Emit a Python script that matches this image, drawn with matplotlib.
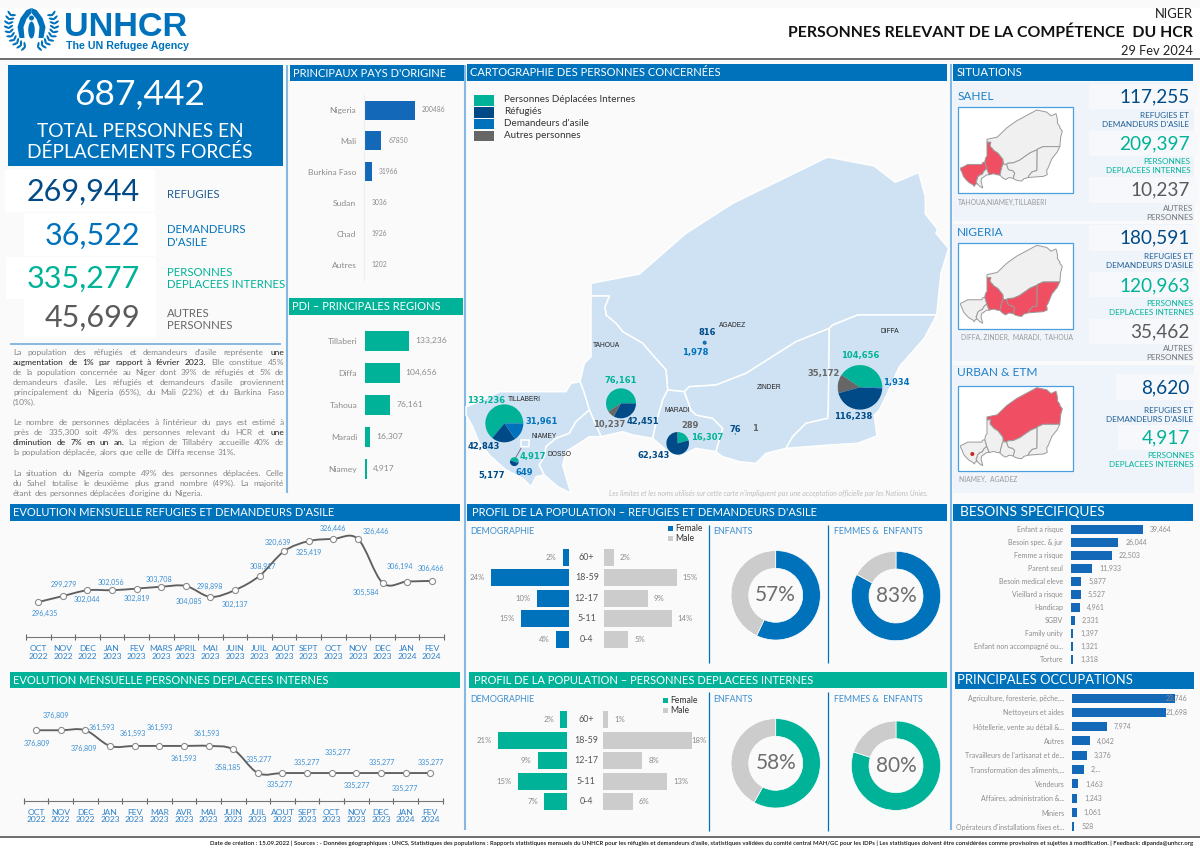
# UNHCR Niger dashboard - February 2024
import numpy as np
import matplotlib
matplotlib.use("Agg")
import matplotlib.pyplot as plt
from matplotlib.path import Path
from matplotlib.patches import PathPatch, Polygon, Rectangle, Ellipse

plt.rcParams['font.family'] = ['Lato', 'DejaVu Sans']

W, H = 1200, 849
BLUE = '#0072bc'
NAVY = '#004b87'
TEAL = '#00b398'
DGREY = '#666666'
LGREY = '#cccccc'
LINEBLUE = '#85b8e3'
LABELBLUE = '#3b8fd4'
TXTGREY = '#8a8a8a'

# ---------------------- values ----------------------
origin_names = ['Nigeria', 'Mali', 'Burkina Faso', 'Sudan', 'Chad', 'Autres']
origin_values = [200486, 67850, 31966, 3036, 1926, 1202]

region_names = ['Tillaberi', 'Diffa', 'Tahoua', 'Maradi', 'Niamey']
region_values = [133236, 104656, 76161, 16307, 4917]

need_names = ['Enfant a risque', 'Besoin spec. & jur', 'Femme a risque', 'Parent seul',
              'Besoin medical eleve', 'Vieillard a risque', 'Handicap', 'SGBV', 'Family unity',
              'Enfant non accompagné ou...', 'Torture']
need_values = [39464, 26044, 22503, 11933, 5877, 5527, 4961, 2331, 1397, 1321, 1318]

job_names = ['Agriculture, foresterie, pêche,...', 'Nettoyeurs et aides', 'Hôtellerie, vente au détail &...',
             'Autres', "Travailleurs de l'artisanat et de...", 'Transformation des aliments,...',
             'Vendeurs', 'Affaires, administration &...', 'Miniers', "Opérateurs d'installations fixes et..."]
job_values = [23746, 21698, 7974, 4042, 3376, 2700, 1463, 1243, 1061, 528]
job_labels = ['23,746', '21,698', '7,974', '4,042', '3,376', '2,...', '1,463', '1,243', '1,061', '528']

months_ref = ['OCT\n2022', 'NOV\n2022', 'DEC\n2022', 'JAN\n2023', 'FEV\n2023', 'MARS\n2023', 'APRIL\n2023',
              'MAI\n2023', 'JUIN\n2023', 'JUIL\n2023', 'AOUT\n2023', 'SEPT\n2023', 'OCT\n2023', 'NOV\n2023',
              'DEC\n2023', 'JAN\n2024', 'FEV\n2024']
refugee_trend = [296435, 299279, 302044, 302056, 302819, 303708, 304085, 298898, 302137,
                 308917, 320639, 325419, 326446, 326446, 305584, 306194, 306466]

months_idp = ['OCT\n2022', 'NOV\n2022', 'DEC\n2022', 'JAN\n2023', 'FEV\n2023', 'MAR\n2023', 'AVR\n2023',
              'MAI\n2023', 'JUIN\n2023', 'JUIL\n2023', 'AOUT\n2023', 'SEPT\n2023', 'OCT\n2023', 'NOV\n2023',
              'DEC\n2023', 'JAN\n2024', 'FEV\n2024']
idp_trend = [376809, 376809, 376809, 361593, 361593, 361593, 361593, 361593, 358185,
             335277, 335277, 335277, 335277, 335277, 335277, 335277, 335277]

age_groups = ['60+', '18-59', '12-17', '5-11', '0-4']
ref_female = [2, 24, 10, 15, 4]
ref_male = [2, 15, 9, 14, 5]
idp_female = [2, 21, 9, 15, 7]
idp_male = [1, 18, 8, 13, 6]

donut_ref_children = [57, 43]
donut_ref_women = [83, 17]
donut_idp_children = [58, 42]
donut_idp_women = [80, 20]

# map pies: PDI, refugees, asylum seekers, others
pie_tillaberi = [133236, 42843, 31961]
pie_tahoua = [76161, 10237, 42451]
pie_maradi = [16307, 62343, 289]
pie_diffa = [104656, 35172, 116238, 1934]
pie_niamey = [4917, 5177, 649]
pie_agadez = [1978, 816]
pie_zinder = [76, 1]

# label offsets around the points of the two trend lines, in pixels
ref_offsets = [(7, 11), (1, -12), (0, 9), (-1, -8), (0, 10), (-2, -7), (3, 16), (-1, -10), (0, 14),
               (3, -9), (-6, -9), (0, 11), (0, -10), (18, -7), (-17, 10), (-7, -15), (-1, -12)]
idp_offsets = [(1, 13), (-5, -15), (-1, 18), (-8, -18), (-2, -12), (1, -18), (0, 13), (-2, -12), (-5, 18),
               (1, -14), (-3, 11), (0, -11), (6, -21), (0, 12), (1, -11), (-1, 15), (0, -11)]

# region outlines in the coordinates of the large map
AGADEZ = [(375, 708), (375, 670), (520, 642), (660, 520), (800, 430), (1085, 291), (1225, 318), (1288, 367),
          (1358, 337), (1378, 410), (1378, 462), (1415, 508), (1410, 520), (1448, 565), (1425, 640), (1412, 765),
          (1175, 765), (1100, 795), (1090, 805), (990, 845), (840, 940), (750, 975), (670, 980), (655, 995),
          (605, 990), (600, 930), (560, 885), (530, 850), (470, 815), (450, 790), (420, 765), (417, 740), (430, 708)]
TAHOUA = [(375, 708), (430, 708), (417, 740), (420, 765), (450, 790), (470, 815), (530, 850), (560, 885),
          (600, 930), (605, 990), (590, 1020), (570, 1090), (560, 1135), (500, 1125), (470, 1115), (405, 1130),
          (370, 1050), (355, 1000), (342, 965), (355, 910), (375, 890)]
TILLABERI = [(342, 965), (355, 1000), (370, 1050), (330, 1085), (310, 1120), (270, 1135), (240, 1160), (235, 1190),
             (220, 1215), (235, 1245), (210, 1250), (195, 1280), (170, 1255), (120, 1230), (75, 1190), (40, 1150),
             (20, 1100), (0, 1065), (0, 1040), (40, 1025), (100, 995), (300, 995), (315, 970)]
DOSSO = [(370, 1050), (405, 1130), (370, 1130), (340, 1150), (300, 1175), (290, 1215), (300, 1250), (315, 1300),
         (275, 1280), (235, 1245), (220, 1215), (235, 1190), (240, 1160), (270, 1135), (310, 1120), (330, 1085)]
MARADI = [(605, 990), (655, 995), (675, 1050), (690, 1065), (740, 1075), (770, 1105), (750, 1175), (690, 1165),
          (640, 1190), (600, 1170), (560, 1135), (570, 1090), (590, 1020)]
ZINDER = [(655, 995), (670, 980), (750, 975), (840, 940), (990, 845), (1090, 805), (1087, 1050), (1085, 1075),
          (1020, 1090), (980, 1130), (960, 1165), (900, 1180), (870, 1210), (820, 1205), (770, 1190), (750, 1175),
          (770, 1105), (740, 1075), (690, 1065), (675, 1050)]
DIFFA = [(1090, 805), (1100, 795), (1175, 765), (1412, 765), (1375, 835), (1300, 920), (1255, 1020), (1240, 1050),
         (1225, 1065), (1233, 1128), (1175, 1150), (1090, 1155), (960, 1165), (980, 1130), (1020, 1090), (1085, 1075),
         (1087, 1050)]
NIAMEY = [(165, 1140), (190, 1140), (188, 1160), (165, 1160)]
ALL_REGIONS = [AGADEZ, TAHOUA, TILLABERI, DOSSO, MARADI, ZINDER, DIFFA]

body_lines = [
    ("La population des réfugiés et demandeurs d'asile représente **une**", 352, True),
    ("**augmentation de 1% par rapport à février 2023.** Elle constitue 45%", 362, True),
    ("de la population concernée au Niger dont 39% de réfugiés et 5% de", 372, True),
    ("demandeurs d'asile. Les réfugiés et demandeurs d'asile proviennent", 382, True),
    ("principalement du Nigeria (65%), du Mali (22%) et du Burkina Faso", 392, True),
    ("(10%).", 402, False),
    ("Le nombre de personnes déplacées à l'intérieur du pays est estimé à", 422, True),
    ("près de 335,300 soit 49% des personnes relevant du HCR et **une**", 432, True),
    ("**diminution de 7% en un an.** La région de Tillabéry accueille 40% de", 442.5, True),
    ("la population déplacée, alors que celle de Diffa recense 31%.", 452.5, False),
    ("La situation du Nigeria compte 49% des personnes déplacées. Celle", 473, True),
    ("du Sahel totalise le deuxième plus grand nombre (49%). La majorité", 483, True),
    ("étant des personnes déplacées d'origine du Nigeria.", 493, False),
]

# ---------------------- figure and helpers ----------------------
fig = plt.figure(figsize=(12, 8.49), dpi=100, facecolor='#fafafa')
base = fig.add_axes([0, 0, 1, 1])
base.set_xlim(0, W)
base.set_ylim(H, 0)
base.axis('off')


def T(x, y, s, size, color='#444444', ha='left', va='center', **kw):
    return base.text(x, y, s, fontsize=size, color=color, ha=ha, va=va, **kw)


def box(x0, y0, x1, y1, color, z=1):
    base.add_patch(Rectangle((x0, y0), x1 - x0, y1 - y0, fc=color, ec='none', zorder=z))


def vline(x, y0, y1, color=LINEBLUE, lw=1.5):
    base.plot([x, x], [y0, y1], color=color, lw=lw, solid_capstyle='butt', zorder=2)


def header(x0, y0, x1, y1, s, color=BLUE, size=8.05, pad=3):
    box(x0, y0, x1, y1, color, z=2)
    T(x0 + pad, (y0 + y1) / 2, s, size, 'white', zorder=3)


def add_ax(x0, y0, x1, y1):
    ax = fig.add_axes([x0 / W, 1 - y1 / H, (x1 - x0) / W, (y1 - y0) / H])
    ax.patch.set_alpha(0)
    return ax


def hbars(names, values, x0, x1, y_first, y_step, bar_px, px_per_unit, color, name_size, val_size,
          labels=None, gaps=None, axis_line=False, name_color='#8c8c8c', val_color='#8c8c8c'):
    n = len(values)
    ax = add_ax(x0, y_first - y_step / 2, x1, y_first + (n - 0.5) * y_step)
    ax.barh(range(n), values, height=bar_px / y_step, color=color)
    ax.set_xlim(0, (x1 - x0) / px_per_unit)
    ax.set_ylim(n - 0.5, -0.5)
    ax.set_yticks(range(n), names, fontsize=name_size, color=name_color)
    ax.set_xticks([])
    ax.tick_params(axis='y', length=0, pad=5.5)
    for s in ['top', 'right', 'bottom']:
        ax.spines[s].set_visible(False)
    ax.spines['left'].set_visible(axis_line)
    ax.spines['left'].set_color('#eeeeee')
    if labels is None:
        labels = [f'{v:,}' for v in values]
    if gaps is None:
        gaps = [7] * n
    for i, v in enumerate(values):
        ax.annotate(labels[i], (v, i), xytext=(gaps[i] * 0.72, 0), textcoords='offset points', va='center',
                    fontsize=val_size, color=val_color, zorder=5)
    return ax


def pie_at(cx, cy, r, vals, colors, start=0, ccw=True, **kw):
    ax = add_ax(cx - r, cy - r, cx + r, cy + r)
    ax.pie(vals, colors=colors, startangle=start, counterclock=ccw, radius=1, **kw)
    ax.set_xlim(-1, 1)
    ax.set_ylim(-1, 1)
    return ax


def smooth_path(x, y):
    # same look as the smoothed line of the spreadsheet chart
    x = np.asarray(x, float)
    y = np.asarray(y, float)
    verts = [(x[0], y[0])]
    codes = [Path.MOVETO]
    for i in range(len(x) - 1):
        a = max(i - 1, 0)
        b = min(i + 2, len(x) - 1)
        verts.append((x[i] + (x[i + 1] - x[a]) / 6, y[i] + (y[i + 1] - y[a]) / 6))
        verts.append((x[i + 1] - (x[b] - x[i]) / 6, y[i + 1] - (y[b] - y[i]) / 6))
        verts.append((x[i + 1], y[i + 1]))
        codes += [Path.CURVE4] * 3
    return Path(verts, codes)


def trend(values, months, offsets, x0, x1, y0, y1, ymin, ymax):
    ax = add_ax(x0, y0, x1, y1)
    xs = list(range(len(values)))
    ax.add_patch(PathPatch(smooth_path(xs, values), fc='none', ec='#5f5f5f', lw=1.35))
    ax.plot(xs, values, 'o', ms=4.4, mfc='white', mec='#8c8c8c', mew=0.8)
    ax.set_xlim(-0.5, len(values) - 0.5)
    ax.set_ylim(ymin, ymax)
    ax.set_yticks([])
    ax.set_xticks(np.arange(-0.5, len(values)), [''] * (len(values) + 1))
    ax.set_xticks(xs, months, minor=True, fontsize=6.1, color='#2f82c9', linespacing=1.05)
    ax.tick_params(axis='x', which='major', direction='inout', length=4, color='#666666', width=0.8)
    ax.tick_params(axis='x', which='minor', length=0, pad=6)
    for s in ['top', 'left', 'right']:
        ax.spines[s].set_visible(False)
    ax.spines['bottom'].set_color('#777777')
    for i, v in enumerate(values):
        ax.annotate(f'{v:,}', (i, v), xytext=(offsets[i][0] * 0.72, -offsets[i][1] * 0.72),
                    textcoords='offset points', ha='center', va='center', fontsize=5.1, color=LABELBLUE)
    return ax


def pyramid(female, male, color, x_f, x_m, y_first, y_step, bar_px, f_scale, m_scale, age_x, male_gaps):
    n = len(female)
    top, bot = y_first - y_step / 2, y_first + (n - 0.5) * y_step
    axf = add_ax(x_f - 100, top, x_f, bot)
    axf.barh(range(n), female, height=bar_px / y_step, color=color)
    axf.set_xlim(100 / f_scale, 0)
    axm = add_ax(x_m, top, x_m + 100, bot)
    axm.barh(range(n), male, height=bar_px / y_step, color=LGREY)
    axm.set_xlim(0, 100 / m_scale)
    for ax in (axf, axm):
        ax.set_ylim(n - 0.5, -0.5)
        ax.axis('off')
    for i in range(n):
        axf.annotate(f'{female[i]}%', (female[i], i), xytext=(-4.5, 0), textcoords='offset points', ha='right',
                     va='center', fontsize=5.6, color=TXTGREY)
        axm.annotate(f'{male[i]}%', (male[i], i), xytext=(male_gaps[i] * 0.72, 0), textcoords='offset points',
                     va='center', fontsize=5.6, color=TXTGREY)
        T(age_x, y_first + i * y_step, age_groups[i], 6.4, '#555555', ha='center')


def map_x(zx):
    return 466 + zx / 3


def map_y(zy):
    return 60 + zy / 3


def ml(zx, zy, s, color, size=6.0):
    T(map_x(zx), map_y(zy), s, size, color, ha='center', family='DejaVu Sans', weight='bold', zorder=6)


def rl(zx, zy, s):
    T(map_x(zx), map_y(zy), s, 4.8, '#222222', ha='center', family='Liberation Sans', zorder=6)


# ---------------------- page frame ----------------------
box(0, 8, W, 59, 'white')
box(0, 838, W, H, 'white')
base.plot([0, W], [59, 59], color='#555555', lw=1.2)
base.plot([0, W], [836.5, 836.5], color='#555555', lw=1.2)

# emblem, drawn roughly: wreath, sheltering hands, person
cx = 31.5
for side in (-1, 1):
    for t in np.arange(-28, 78, 11):
        rad = np.radians(t)
        for r, tilt in [(21, -28), (25, 28)]:
            lx = cx + side * r * np.cos(rad)
            ly = 25 + r * np.sin(rad)
            base.add_patch(Ellipse((lx, ly), 2.2, 6, angle=-side * (90 - t + tilt),
                                   fc=BLUE, ec='none', zorder=3))
    hand = [(0, 8), (-5, 10), (-11, 18), (-14, 27), (-12, 38), (-7, 38), (-8, 27), (-5, 19), (0, 13)]
    base.add_patch(Polygon([(cx + side * a, b) for a, b in hand], fc=BLUE, ec='none', zorder=3))
base.add_patch(Ellipse((cx, 18), 5, 5, fc=BLUE, ec='none', zorder=3))
base.add_patch(Ellipse((cx, 30), 6.5, 17, fc=BLUE, ec='none', zorder=3))
T(64, 27.5, 'UNHCR', 24.7, BLUE, family='Liberation Sans', weight='bold')
T(66, 46, 'The UN Refugee Agency', 7.7, BLUE, family='Liberation Sans', weight='bold')

T(1193, 14, 'NIGER', 9.3, '#222222', ha='right')
T(1193, 33, 'PERSONNES RELEVANT DE LA COMPÉTENCE  DU HCR', 11.4, '#111111', ha='right', weight='bold')
T(1193, 51, '29 Fev 2024', 9.3, '#222222', ha='right')

T(1193, 843, "Date de création : 15.09.2022 | Sources : - Données géographiques : UNCS, Statistiques des populations : "
             "Rapports statistiques mensuels du UNHCR pour les réfugiés et demandeurs d'asile, statistiques validées du "
             "comité central MAH/GC pour les IDPs | Les statistiques doivent être considérées comme provisoires et "
             "sujettes à modification. | Feedback: dipanda@unhcr.org", 4.3, '#111111', ha='right', weight='semibold')

vline(287, 65, 493)
vline(464.5, 65, 830)
vline(951, 64, 830)

# ---------------------- key figures ----------------------
box(8, 65, 283, 166, BLUE, z=2)
T(140, 94, '687,442', 25.5, 'white', ha='center', zorder=3)
T(140, 131, 'TOTAL PERSONNES EN', 13.8, 'white', ha='center', zorder=3)
T(140, 152, 'DÉPLACEMENTS FORCÉS', 13.8, 'white', ha='center', zorder=3)

figures = [(5, 170, 155, 212, '269,944', 192, NAVY), (24, 213, 156, 256, '36,522', 236, BLUE),
           (6, 257, 156, 299, '335,277', 279, TEAL), (24, 297, 156, 338, '45,699', 318, '#5a5a5a')]
for x0, y0, x1, y1, s, y, c in figures:
    box(x0, y0, x1, y1, 'white')
    T(140, y, s, 22, c, ha='right', zorder=3)
T(167, 194, 'REFUGIES', 8.2, '#1f5e96')
T(167, 236, 'DEMANDEURS\nD\'ASILE', 8.2, BLUE, linespacing=1.15)
T(167, 278.5, 'PERSONNES\nDEPLACEES INTERNES', 8.2, TEAL, linespacing=1.15)
T(167, 319.5, 'AUTRES\nPERSONNES', 8.2, '#666666', linespacing=1.15)
base.plot([11, 280], [343.5, 343.5], color=LINEBLUE, lw=1.4)

# justified paragraph, word by word
renderer = fig.canvas.get_renderer()
space = 2.2
for line, y, justify in body_lines:
    words = []
    for k, part in enumerate(line.split('**')):
        words += [(w, k % 2 == 1) for w in part.split()]
    arts = [T(0, y, w, 6.0, '#222222' if b else '#858585') for w, b in words]
    widths = [a.get_window_extent(renderer).width for a in arts]
    gap = (284 - 13 - sum(widths)) / (len(words) - 1) if justify else space
    x = 13
    for a, w in zip(arts, widths):
        a.set_x(x)
        x += w + gap

# ---------------------- origin countries and PDI regions ----------------------
header(290, 65, 464, 81, "PRINCIPAUX PAYS D'ORIGINE")
hbars(origin_names, origin_values, 364, 460, 110, 30.9, 19, 50.7 / 200486, '#1369b8', 6.1, 4.9,
      labels=[str(v) for v in origin_values], axis_line=True)
header(289, 298, 463, 315, 'PDI – PRINCIPALES REGIONS', TEAL)
hbars(region_names, region_values, 365, 460, 340.7, 32, 20, 44 / 133236, TEAL, 6.1, 6.1, gaps=[6] * 5)

# ---------------------- map ----------------------
header(467, 64, 947, 81, 'CARTOGRAPHIE DES PERSONNES CONCERNÉES')
for reg in ALL_REGIONS + [NIAMEY]:
    base.add_patch(Polygon([(map_x(a), map_y(b)) for a, b in reg], fc='#cfe2f3', ec='white', lw=1.1, zorder=2))
base.plot([map_x(165), map_x(148)], [map_y(1165), map_y(1195)], color='#777777', lw=0.7, zorder=3)

legend_names = ['Personnes Déplacées Internes', 'Réfugiés', "Demandeurs d'asile", 'Autres personnes']
legend_colors = [TEAL, NAVY, BLUE, DGREY]
for i in range(4):
    y = map_y(106 + i * 35.3)
    box(map_x(24), y, map_x(85), y + 10.4, legend_colors[i], z=3)
    T(map_x(113), y + 4.6, legend_names[i], 7.1, '#333333')

wp = dict(edgecolor='none')
pie_at(map_x(115), map_y(1090), 19, pie_tillaberi, [TEAL, NAVY, BLUE], wedgeprops=wp)
pie_at(map_x(465), map_y(1030), 15, pie_tahoua, [TEAL, DGREY, NAVY], wedgeprops=wp)
pie_at(map_x(635), map_y(1150), 11.3, pie_maradi, [TEAL, NAVY, DGREY], start=90, ccw=False, wedgeprops=wp)
pie_at(map_x(1182), map_y(982), 22.3, pie_diffa, [TEAL, DGREY, NAVY, BLUE], wedgeprops=wp)
pie_at(map_x(145), map_y(1205), 4.4, pie_niamey, [TEAL, NAVY, BLUE], wedgeprops=wp)
pie_at(map_x(716), map_y(848), 2, pie_agadez, [BLUE, NAVY], wedgeprops=wp)
pie_at(map_x(808), map_y(1122), 0.6, pie_zinder, [NAVY, DGREY], wedgeprops=wp)

ml(60, 1020, '133,236', TEAL)
ml(228, 1085, '31,961', BLUE)
ml(53, 1160, '42,843', NAVY)
ml(200, 1189, '4,917', TEAL)
ml(78, 1246, '5,177', NAVY)
ml(176, 1237, '649', BLUE)
ml(464, 962, '76,161', TEAL)
ml(428, 1092, '10,237', DGREY)
ml(532, 1083, '42,451', NAVY)
ml(673, 1096, '289', DGREY)
ml(723, 1133, '16,307', TEAL)
ml(564, 1186, '62,343', NAVY)
ml(725, 817, '816', NAVY)
ml(687, 876, '1,978', BLUE)
ml(809, 1107, '76', NAVY)
ml(866, 1105, '1', DGREY)
ml(1184, 887, '104,656', TEAL)
ml(1074, 940, '35,172', DGREY)
ml(1292, 967, '1,934', BLUE)
ml(1160, 1069, '116,238', NAVY)
rl(175, 1019, 'TILLABERI')
rl(233, 1130, 'NIAMEY')
rl(280, 1182, 'DOSSO')
rl(422, 855, 'TAHOUA')
rl(634, 1052, 'MARADI')
rl(799, 796, 'AGADEZ')
rl(908, 983, 'ZINDER')
rl(1270, 815, 'DIFFA')
T(768, 493, "Les limites et les noms utilisés sur cette carte n'impliquent pas une acceptation officielle par les Nations Unies.",
  5.0, '#bdbdbd', ha='center', style='italic')

# ---------------------- situations ----------------------
header(953, 64, 1193, 81, 'SITUATIONS', size=8.2, pad=4)
box(953, 82, 1194, 221, '#eff4fa')
box(953, 224, 1194, 361, '#eff4fa')
box(953, 365, 1194, 493, '#eff4fa')


def sx(zx):
    return 950 + zx / 3


def sy(zy):
    return 60 + zy / 3


def mini_map(top_z, frame, red, cap, cap_z):
    fx0, fy0, fy1 = frame
    base.add_patch(Rectangle((sx(fx0), sy(fy0)), (368 - fx0) / 3, (fy1 - fy0) / 3, fc='white', ec='#4a9fdc',
                             lw=0.9, zorder=2))
    for reg in ALL_REGIONS:
        c = '#f04e62' if any(reg is q for q in red) else '#f0f0f0'
        pts = [(sx(32) + a * 0.0702, sy(top_z) + (b - 291) * 0.0773) for a, b in reg]
        base.add_patch(Polygon(pts, fc=c, ec='#9a9a9a', lw=0.7, zorder=3))
    T(sx(cap_z), sy(fy1 + 26), cap, 4.9, '#999999')


def sit_num(y_box0, y_box1, x_box0, val, val_y, right, color):
    box(sx(x_box0), sy(y_box0), sx(740), sy(y_box1), '#f6f8fb', z=1.5)
    T(sx(right), sy(val_y), val, 13.7, color, ha='right', zorder=3)


def sit_lab(s1, s2, y1, y2, right, color):
    T(sx(right), sy(y1), s1, 5.9, color, ha='right', zorder=3)
    T(sx(right), sy(y2), s2, 5.9, color, ha='right', zorder=3)


T(sx(22), sy(108), 'SAHEL', 8.6, '#1f80c8', zorder=3)
mini_map(150, (25, 140, 400), [TAHOUA, TILLABERI], 'TAHOUA,NIAMEY,TILLABERI', 23)
sit_num(72, 148, 418, '117,255', 110, 720, NAVY)
sit_lab('REFUGIES ET', "DEMANDEURS D'ASILE", 167, 194, 717, '#1f5e96')
sit_num(212, 288, 418, '209,397', 253, 720, TEAL)
sit_lab('PERSONNES', 'DEPLACEES INTERNES', 303, 330, 722, TEAL)
sit_num(350, 428, 418, '10,237', 390, 720, '#5a5a5a')
sit_lab('AUTRES', 'PERSONNES', 444, 471, 730, '#777777')

T(sx(22), sy(517), 'NIGERIA', 8.6, '#1f80c8', zorder=3)
mini_map(556, (25, 548, 806), [TAHOUA, MARADI, ZINDER, DIFFA], 'DIFFA, ZINDER,  MARADI,  TAHOUA', 32)
sit_num(495, 572, 418, '180,591', 535, 718, NAVY)
sit_lab('REFUGIES ET', "DEMANDEURS D'ASILE", 589, 616, 730, '#1f5e96')
sit_num(636, 712, 418, '120,963', 677, 720, TEAL)
sit_lab('PERSONNES', 'DEPLACEES INTERNES', 730, 757, 730, TEAL)
sit_num(778, 852, 418, '35,462', 815, 718, '#5a5a5a')
sit_lab('AUTRES', 'PERSONNES', 865, 892, 730, '#777777')

T(sx(22), sy(938), 'URBAN & ETM', 8.6, '#1f80c8', zorder=3)
mini_map(983, (25, 977, 1232), [AGADEZ], 'NIAMEY,  AGADEZ', 27)
base.add_patch(Ellipse((sx(67), sy(1182)), 4, 4, fc='#c8281e', ec='none', zorder=4))
sit_num(943, 1020, 497, '8,620', 983, 718, NAVY)
sit_lab('REFUGIES ET', "DEMANDEURS D'ASILE", 1051, 1078, 730, '#1f5e96')
sit_num(1095, 1170, 503, '4,917', 1135, 720, TEAL)
sit_lab('PERSONNES', 'DEPLACEES INTERNES', 1187, 1214, 732, TEAL)

# ---------------------- trends ----------------------
header(10, 504, 460, 521, "EVOLUTION MENSUELLE REFUGIES ET DEMANDEURS D'ASILE")
trend(refugee_trend, months_ref, ref_offsets, 26, 444, 530, 637, 279800, 330700)
header(10, 672, 460, 688, 'EVOLUTION MENSUELLE PERSONNES DEPLACEES INTERNES', TEAL)
trend(idp_trend, months_idp, idp_offsets, 23.7, 442.7, 700, 800.7, 308400, 406200)

# ---------------------- population profiles ----------------------
header(467, 504, 947, 521, "PROFIL DE LA POPULATION – REFUGIES ET DEMANDEURS D'ASILE", pad=5)
header(469, 672, 947, 688, 'PROFIL DE LA POPULATION – PERSONNES DEPLACEES INTERNES', TEAL, pad=5)
for y0, y1, yt in [(525, 663, 531), (692, 831, 699)]:
    vline(709, y0, y1, BLUE, 0.9)
    vline(827.7, y0, y1, BLUE, 0.9)
    T(470, yt, 'DEMOGRAPHIE', 6.4, '#3c8ecf')
    T(713, yt, 'ENFANTS', 6.4, '#3c8ecf')
    T(834, yt, 'FEMMES &  ENFANTS', 6.4, '#3c8ecf')

pyramid(ref_female, ref_male, BLUE, 569.3, 604, 557, 20.55, 17, 3.25, 4.85, 586.7, [6, 6, 6, 6, 6])
pyramid(idp_female, idp_male, TEAL, 567, 602.7, 719.7, 20.5, 17, 3.27, 4.97, 586, [7, -1, 6, 6, 6])

box(667.7, 525.7, 673, 530.7, BLUE, z=3)
box(667.7, 535.7, 673, 540.7, LGREY, z=3)
T(675.3, 528.7, 'Female', 6.2, '#333333')
T(675.3, 538.5, 'Male', 6.2, '#333333')
box(662.7, 697.5, 667.7, 702.5, TEAL, z=3)
box(662.7, 707.5, 667.7, 712.5, LGREY, z=3)
T(670, 700.7, 'Female', 6.2, '#333333')
T(670, 710.7, 'Male', 6.2, '#333333')

ring = dict(width=1 - 27 / 44.7, edgecolor='white', linewidth=0.5)
donuts = [(775.7, 595.3, donut_ref_children, BLUE), (896, 596, donut_ref_women, BLUE),
          (775.7, 763.3, donut_idp_children, TEAL), (896, 765.7, donut_idp_women, TEAL)]
for dx, dy, vals, c in donuts:
    pie_at(dx, dy, 44.7, vals, [c, LGREY], start=90, ccw=False, wedgeprops=ring)
    base.text(dx, dy, f'{vals[0]}%', fontsize=15, color='#6e6e6e', ha='center', va='center', zorder=6)

# ---------------------- specific needs and occupations ----------------------
header(953, 504, 1193, 521, 'BESOINS SPECIFIQUES', size=9.9, pad=7)
hbars(need_names, need_values, 1070.7, 1190, 529, 13, 9, 72 / 39464, '#1369b8', 5.0, 5.0)
header(955, 672, 1194, 689, 'PRINCIPALES OCCUPATIONS', size=9.4, pad=2)
hbars(job_names, job_values, 1072, 1192, 698, 14.33, 9, 103 / 23746, '#1369b8', 5.0, 5.0,
      labels=job_labels, gaps=[-9, 0] + [7] * 8)

fig.savefig('out.png', dpi=100, facecolor=fig.get_facecolor())
